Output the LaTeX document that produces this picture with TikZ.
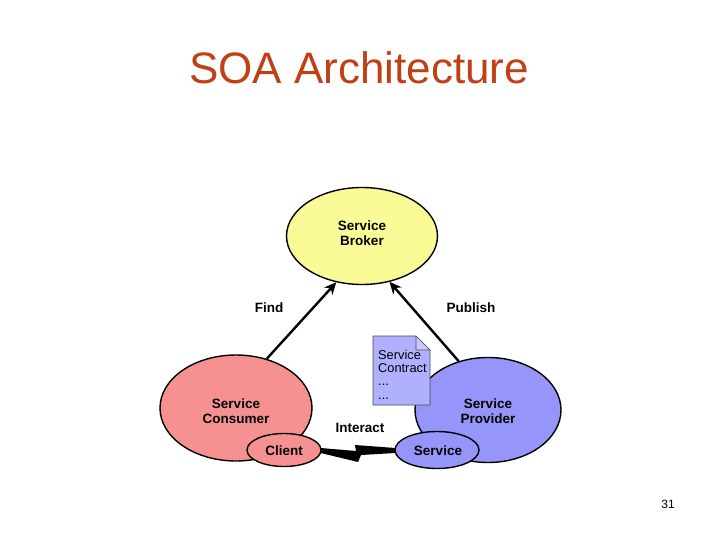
\documentclass[tikz,border=0pt]{standalone}
\usepackage{fontspec}
\setmainfont{Liberation Sans}
\usetikzlibrary{shapes.geometric,arrows.meta,calc}
\definecolor{titlecol}{RGB}{192,64,22}
\definecolor{brokercol}{RGB}{250,250,150}
\definecolor{conscol}{RGB}{245,145,145}
\definecolor{provcol}{RGB}{150,150,250}
\definecolor{doccol}{RGB}{176,176,255}
\definecolor{foldcol}{RGB}{200,200,255}
\tikzset{
  ell/.style={ellipse, draw=black, line width=1.4pt, inner sep=0pt},
  lbl/.style={font=\fontsize{13.5}{15}\selectfont\bfseries, align=center},
  arr/.style={line width=2.4pt, -{Stealth[length=12pt,width=11pt]}}
}
\begin{document}
\begin{tikzpicture}[x=1pt,y=-1pt]
\useasboundingbox[fill=white] (0,0) rectangle (720,540);
\node[font=\fontsize{44}{48}\selectfont, text=titlecol] (title) at (359,68) {SOA Architecture};
\node[font=\fontsize{12}{14}\selectfont] (page) at (668,504) {31};

\node[ell, fill=brokercol, minimum width=151pt, minimum height=97pt] (broker) at (362,236) {};
\node[lbl] (brokerT) at (362,233) {Service\\Broker};
\node[ell, fill=conscol, minimum width=152pt, minimum height=106pt] (cons) at (236,408) {};
\node[lbl] (consT) at (236,411) {Service\\Consumer};
\node[ell, fill=provcol, minimum width=146pt, minimum height=105pt] (prov) at (488,410) {};
\node[lbl] (provT) at (488,411) {Service\\Provider};
\node[ell, fill=conscol, minimum width=74pt, minimum height=33pt] (client) at (284,450) {};
\node[lbl] (clientT) at (284,451) {Client};
\node[ell, fill=provcol, minimum width=84pt, minimum height=37pt] (service) at (437,450) {};
\node[lbl] (serviceT) at (438,451) {Service};

% service contract document
\draw[fill=doccol, draw=black!70, line width=0.6pt] (373,336) -- (416,336) -- (430,350) -- (430,405) -- (373,405) -- cycle;
\draw[fill=foldcol, draw=black!70, line width=0.6pt] (416,336) -- (416,350) -- (430,350) -- cycle;
\node[font=\fontsize{12.8}{13.2}\selectfont, align=left, anchor=north west, inner sep=0pt] (contract) at (378,350) {Service\\Contract\\...\\...};

\draw[arr] (cons.58) -- (broker.241);
\draw[arr] (prov.121) -- (broker.301);
\node[lbl] (find) at (269,308) {Find};
\node[lbl] (publish) at (471,308) {Publish};
\node[lbl] (interact) at (360,428) {Interact};

% lightning connector
\fill[black] ($(client.east)+(-1,-2)$) -- (356,451) -- (355,445) -- ($(service.west)+(1,-2)$) -- ($(service.west)+(1,3)$) -- (361,455) -- (358,462) -- ($(client.east)+(-1,3)$) -- cycle;
\end{tikzpicture}
\end{document}
